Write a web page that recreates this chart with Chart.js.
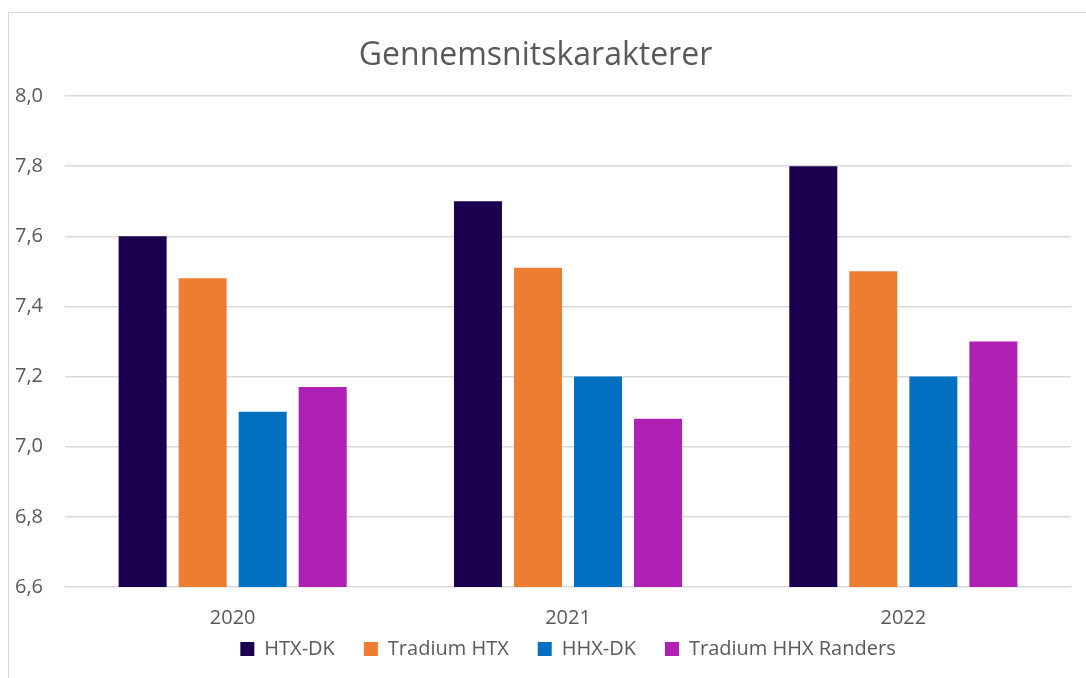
<!DOCTYPE html>
<html>
<head>
<meta charset="utf-8">
<script src="https://cdn.jsdelivr.net/npm/chart.js@4/dist/chart.umd.min.js"></script>
<style>
  html, body { margin: 0; padding: 0; background: #fff; }
  #wrap { position: relative; width: 1086px; height: 678px; overflow: hidden; }
  #frame { position: absolute; left: 8px; top: 12px; width: 1200px; height: 800px;
           border-left: 1px solid #d9d9d9; border-top: 1px solid #d9d9d9; }
  canvas { position: absolute; left: 0; top: 0; }
</style>
</head>
<body>
<div id="wrap">
  <div id="frame"></div>
  <canvas id="chart" width="1086" height="678"></canvas>
</div>
<script>
// data
const years = ['2020', '2021', '2022'];
const htxDk = [7.6, 7.7, 7.8];
const tradiumHtx = [7.48, 7.51, 7.5];
const hhxDk = [7.1, 7.2, 7.2];
const tradiumHhxRanders = [7.17, 7.08, 7.3];
const yTicks = { min: 6.6, max: 8.0, step: 0.2 };

const textColor = '#595959';
const fontFamily = '"Open Sans", sans-serif';

function makeSet(label, data, color) {
    return {
        label: label,
        data: data,
        backgroundColor: color,
        borderWidth: 0,
        barPercentage: 0.8,
        categoryPercentage: 0.716
    };
}

// year labels under the groups, placed from the x scale
const yearLabels = {
    id: 'yearLabels',
    afterDraw(chart) {
        const xs = chart.scales.x;
        const c = chart.ctx;
        c.save();
        c.font = '20px ' + fontFamily;
        c.fillStyle = textColor;
        c.textAlign = 'center';
        c.textBaseline = 'middle';
        years.forEach(function (y, i) {
            c.fillText(y, xs.getPixelForTick(i), xs.top + 31);
        });
        c.restore();
    }
};

const ctx = document.getElementById('chart').getContext('2d');
new Chart(ctx, {
    type: 'bar',
    data: {
        labels: years,
        datasets: [
            makeSet('HTX-DK', htxDk, '#1B0050'),
            makeSet('Tradium HTX', tradiumHtx, '#ED7D31'),
            makeSet('HHX-DK', hhxDk, '#0070C0'),
            makeSet('Tradium HHX Randers', tradiumHhxRanders, '#B020B4')
        ]
    },
    plugins: [yearLabels],
    options: {
        responsive: false,
        animation: false,
        devicePixelRatio: 1,
        layout: { padding: { left: 0, right: 15, top: 0, bottom: 9 } },
        plugins: {
            title: {
                display: true,
                text: 'Gennemsnitskarakterer',
                color: textColor,
                font: { family: fontFamily, size: 32, weight: 'normal' },
                padding: { top: 37, bottom: 20.6 }
            },
            legend: {
                position: 'bottom',
                fullSize: false,
                labels: {
                    color: textColor,
                    font: { family: fontFamily, size: 20 },
                    boxWidth: 14,
                    boxHeight: 14,
                    padding: 29
                }
            },
            tooltip: { enabled: false }
        },
        scales: {
            x: {
                grid: { display: false, drawTicks: false },
                border: { display: false },
                ticks: { display: false },
                afterFit: function (scale) { scale.height = 23; }
            },
            y: {
                min: yTicks.min,
                max: yTicks.max,
                border: { display: false },
                grid: { color: '#d9d9d9', lineWidth: 1.5, drawTicks: false },
                ticks: {
                    stepSize: yTicks.step,
                    color: textColor,
                    font: { family: fontFamily, size: 20 },
                    padding: 22,
                    callback: function (v) { return v.toFixed(1).replace('.', ','); }
                },
                afterFit: function (scale) { scale.width = 65; }
            }
        }
    }
});
</script>
</body>
</html>
